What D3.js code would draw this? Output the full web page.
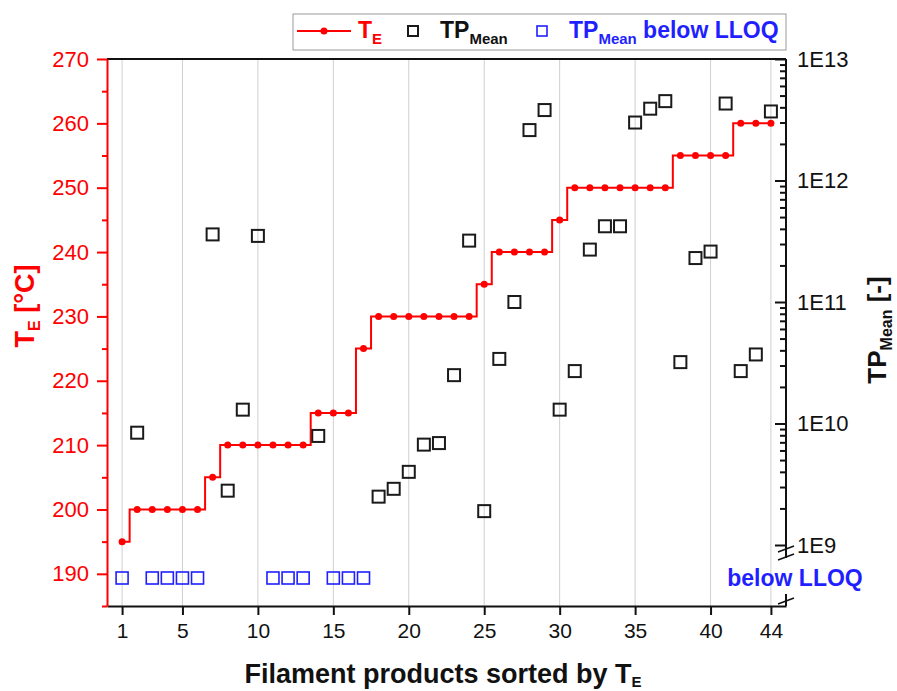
<!DOCTYPE html>
<html>
<head>
<meta charset="utf-8">
<script src="https://cdn.jsdelivr.net/npm/d3@7/dist/d3.min.js"></script>
<style>
  body { margin: 0; background: #fff; }
  svg { font-family: "Liberation Sans", Arial, sans-serif; }
</style>
</head>
<body>
<div id="vis"></div>
<script>
// filament products, sorted by extrusion temperature
var products = [1,2,3,4,5,6,7,8,9,10,11,12,13,14,15,16,17,18,19,20,21,22,
    23,24,25,26,27,28,29,30,31,32,33,34,35,36,37,38,39,40,41,42,43,44];

var te = [195,200,200,200,200,200,205,210,210,210,210,210,210,215,215,215,225,
    230,230,230,230,230,230,230,235,240,240,240,240,245,250,250,250,250,250,250,250,
    255,255,255,255,260,260,260];

// null = below LLOQ
var tpMean = [null,8.4e9,null,null,null,null,3.6e11,2.8e9,1.3e10,3.5e11,null,null,null,
    7.9e9,null,null,null,2.5e9,2.9e9,4.0e9,6.7e9,6.9e9,2.5e10,3.2e11,1.9e9,3.4e10,1.0e11,
    2.6e12,3.8e12,1.3e10,2.7e10,2.7e11,4.2e11,4.2e11,3.0e12,3.9e12,4.5e12,3.2e10,2.3e11,
    2.6e11,4.3e12,2.7e10,3.7e10,3.7e12];

var xTicks = [1,5,10,15,20,25,30,35,40,44];
var leftTicks = [190,200,210,220,230,240,250,260,270];
var rightTicks = [1e9,1e10,1e11,1e12,1e13];

var width = 897, height = 691;
var plotL = 107, plotR = 786, plotT = 59, plotB = 606;
var red = '#ff0000', blue = '#1f1fff';

var svg = d3.select('#vis')
    .append('svg')
    .attr('width', width)
    .attr('height', height);

var x = d3.scaleLinear().domain([0, 45]).range([plotL, plotR]);
var yLeft = d3.scaleLinear().domain([185, 270]).range([plotB, plotT]);
var yRight = d3.scaleLog().domain([1e9, 1e13]).range([545, plotT]);
var yLloq = d3.scaleBand().domain(['below LLOQ']).range([560, 596]);

// grid
svg.append('g')
    .selectAll('line')
    .data(xTicks)
    .enter()
    .append('line')
    .attr('x1', function(d) { return x(d); })
    .attr('x2', function(d) { return x(d); })
    .attr('y1', plotT)
    .attr('y2', plotB)
    .attr('stroke', '#cfcfcf')
    .attr('stroke-width', 1);

// top frame line
svg.append('line')
    .attr('x1', plotL).attr('x2', plotR)
    .attr('y1', plotT).attr('y2', plotT)
    .attr('stroke', '#111').attr('stroke-width', 2);

// bottom axis
var xAxis = svg.append('g')
    .attr('transform', 'translate(0,' + plotB + ')')
    .call(d3.axisBottom(x).tickValues(xTicks).tickSize(9).tickSizeOuter(0).tickPadding(8));
xAxis.select('.domain').attr('stroke', '#111').attr('stroke-width', 2);
xAxis.selectAll('.tick line').attr('stroke', '#111').attr('stroke-width', 2);
xAxis.selectAll('text').attr('font-size', 21).attr('fill', '#111');

// left axis
var leftMinor = svg.append('g')
    .attr('transform', 'translate(' + plotL + ',0)')
    .call(d3.axisLeft(yLeft).tickValues([185,195,205,215,225,235,245,255,265]).tickSize(5).tickFormat(''));
leftMinor.select('.domain').remove();
leftMinor.selectAll('line').attr('stroke', red).attr('stroke-width', 2);

var yAxisLeft = svg.append('g')
    .attr('transform', 'translate(' + plotL + ',0)')
    .call(d3.axisLeft(yLeft).tickValues(leftTicks).tickSize(10).tickSizeOuter(0).tickPadding(8));
yAxisLeft.select('.domain').attr('stroke', red).attr('stroke-width', 2);
yAxisLeft.selectAll('.tick line').attr('stroke', red).attr('stroke-width', 2);
yAxisLeft.selectAll('text').attr('font-size', 22).attr('fill', red);

// right axis (log, inward ticks)
var minor = yRight.ticks().filter(function(d) { return rightTicks.indexOf(d) < 0; });
var rightMinor = svg.append('g')
    .attr('transform', 'translate(' + plotR + ',0)')
    .call(d3.axisRight(yRight).tickValues(minor).tickSize(-6).tickFormat(''));
rightMinor.select('.domain').remove();
rightMinor.selectAll('line').attr('stroke', '#111').attr('stroke-width', 2);

var yAxisRight = svg.append('g')
    .attr('transform', 'translate(' + plotR + ',0)')
    .call(d3.axisRight(yRight).tickValues(rightTicks).tickSize(-11).tickPadding(11)
        .tickFormat(function(d) { return '1E' + Math.round(Math.log10(d)); }));
yAxisRight.select('.domain').remove();
yAxisRight.selectAll('.tick line').attr('stroke', '#111').attr('stroke-width', 2);
yAxisRight.selectAll('text').attr('font-size', 22).attr('fill', '#111');

// right axis line with break
var brk = yRight(1e9);
svg.append('line')
    .attr('x1', plotR).attr('x2', plotR)
    .attr('y1', plotT).attr('y2', brk + 13)
    .attr('stroke', '#111').attr('stroke-width', 2);
svg.append('line')
    .attr('x1', plotR).attr('x2', plotR)
    .attr('y1', 594).attr('y2', plotB)
    .attr('stroke', '#111').attr('stroke-width', 2);
[brk + 4, brk + 12, 601].forEach(function(y) {
    svg.append('line')
        .attr('x1', plotR - 8).attr('x2', plotR + 8)
        .attr('y1', y + 3).attr('y2', y - 3)
        .attr('stroke', '#111').attr('stroke-width', 1.5);
});

svg.append('text')
    .attr('x', plotR + 9)
    .attr('y', yLloq('below LLOQ') + yLloq.bandwidth() / 2)
    .attr('dy', '0.35em')
    .attr('text-anchor', 'middle')
    .attr('font-size', 23)
    .attr('font-weight', 'bold')
    .attr('fill', blue)
    .text('below LLOQ');

// T_E step line
var points = products.map(function(p, i) { return { p: p, t: te[i], tp: tpMean[i] }; });

var line = d3.line()
    .x(function(d) { return x(d.p); })
    .y(function(d) { return yLeft(d.t); })
    .curve(d3.curveStep);

svg.append('path')
    .datum(points)
    .attr('d', line)
    .attr('fill', 'none')
    .attr('stroke', red)
    .attr('stroke-width', 2);

svg.selectAll('.dot')
    .data(points)
    .enter()
    .append('circle')
    .attr('class', 'dot')
    .attr('cx', function(d) { return x(d.p); })
    .attr('cy', function(d) { return yLeft(d.t); })
    .attr('r', 3.5)
    .attr('fill', red);

// TP_Mean squares
var sq = 12;
svg.selectAll('.tp')
    .data(points.filter(function(d) { return d.tp !== null; }))
    .enter()
    .append('rect')
    .attr('class', 'tp')
    .attr('x', function(d) { return x(d.p) - sq / 2; })
    .attr('y', function(d) { return yRight(d.tp) - sq / 2; })
    .attr('width', sq)
    .attr('height', sq)
    .attr('fill', 'none')
    .attr('stroke', '#1a1a1a')
    .attr('stroke-width', 2);

svg.selectAll('.lloq')
    .data(points.filter(function(d) { return d.tp === null; }))
    .enter()
    .append('rect')
    .attr('class', 'lloq')
    .attr('x', function(d) { return x(d.p) - sq / 2; })
    .attr('y', yLloq('below LLOQ') + yLloq.bandwidth() / 2 - sq / 2)
    .attr('width', sq)
    .attr('height', sq)
    .attr('fill', 'none')
    .attr('stroke', blue)
    .attr('stroke-width', 1.6);

// axis titles
var lt = svg.append('text')
    .attr('transform', 'translate(34,306) rotate(-90)')
    .attr('text-anchor', 'middle')
    .attr('font-size', 27)
    .attr('font-weight', 'bold')
    .attr('fill', red);
lt.append('tspan').text('T');
lt.append('tspan').attr('font-size', 16).attr('dy', 6).text('E');
lt.append('tspan').attr('dy', -6).text(' [°C]');

var rt = svg.append('text')
    .attr('transform', 'translate(886,330) rotate(-90)')
    .attr('text-anchor', 'middle')
    .attr('font-size', 26)
    .attr('font-weight', 'bold')
    .attr('fill', '#111');
rt.append('tspan').text('TP');
rt.append('tspan').attr('font-size', 16).attr('dy', 6).text('Mean');
rt.append('tspan').attr('dy', -6).text(' [-]');

var bt = svg.append('text')
    .attr('x', 443)
    .attr('y', 683)
    .attr('text-anchor', 'middle')
    .attr('font-size', 27)
    .attr('font-weight', 'bold')
    .attr('fill', '#111');
bt.append('tspan').text('Filament products sorted by T');
bt.append('tspan').attr('font-size', 15).attr('dy', 4).text('E');

// legend
var lg = svg.append('g');
lg.append('rect')
    .attr('x', 293).attr('y', 14)
    .attr('width', 493).attr('height', 36)
    .attr('fill', '#fff')
    .attr('stroke', '#999')
    .attr('stroke-width', 1);
lg.append('line')
    .attr('x1', 297).attr('x2', 351)
    .attr('y1', 31).attr('y2', 31)
    .attr('stroke', red).attr('stroke-width', 2);
lg.append('circle').attr('cx', 324).attr('cy', 31).attr('r', 3.5).attr('fill', red);
var l1 = lg.append('text').attr('x', 358).attr('y', 38)
    .attr('font-size', 23).attr('font-weight', 'bold').attr('fill', red);
l1.append('tspan').text('T');
l1.append('tspan').attr('font-size', 15).attr('dy', 6).text('E');

lg.append('rect').attr('x', 408).attr('y', 26).attr('width', 10).attr('height', 10)
    .attr('fill', 'none').attr('stroke', '#1a1a1a').attr('stroke-width', 2);
var l2 = lg.append('text').attr('x', 440).attr('y', 38)
    .attr('font-size', 23).attr('font-weight', 'bold').attr('fill', '#111');
l2.append('tspan').text('TP');
l2.append('tspan').attr('font-size', 15).attr('dy', 6).text('Mean');

lg.append('rect').attr('x', 537).attr('y', 26).attr('width', 10).attr('height', 10)
    .attr('fill', 'none').attr('stroke', blue).attr('stroke-width', 1.6);
var l3 = lg.append('text').attr('x', 569).attr('y', 38)
    .attr('font-size', 23).attr('font-weight', 'bold').attr('fill', blue);
l3.append('tspan').text('TP');
l3.append('tspan').attr('font-size', 15).attr('dy', 6).text('Mean');
l3.append('tspan').attr('dy', -6).text(' below LLOQ');
</script>
</body>
</html>
